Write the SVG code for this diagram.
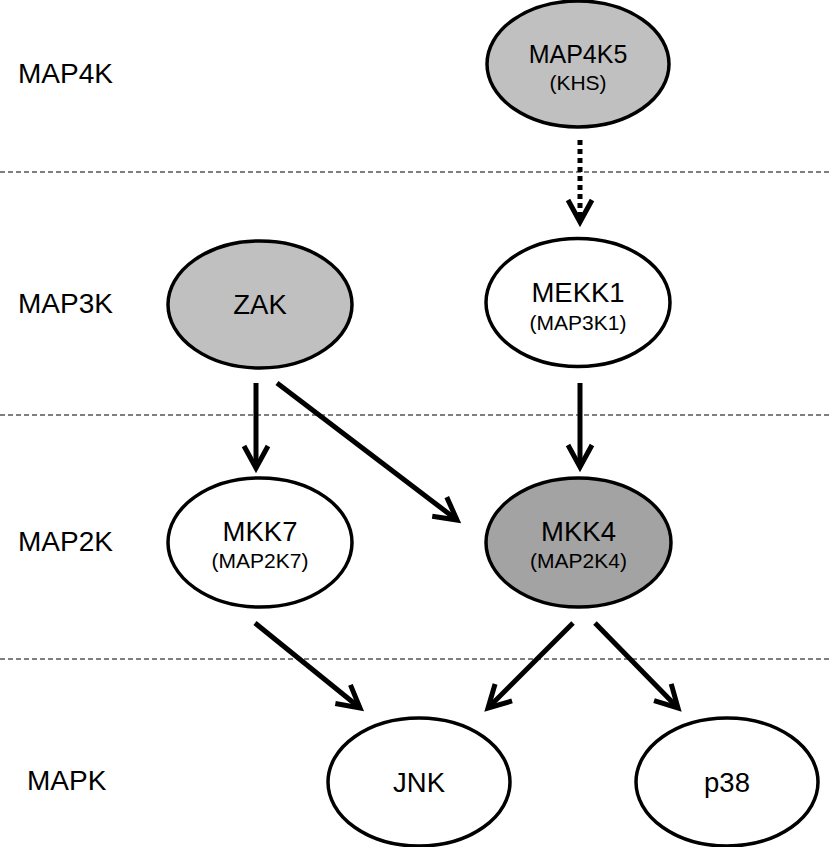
<svg xmlns="http://www.w3.org/2000/svg" width="830" height="847" viewBox="0 0 830 847">
<style>
.lvl{font-family:"Liberation Sans",Arial,sans-serif;font-size:28px;fill:#000}
.t1{font-family:"Liberation Sans",Arial,sans-serif;font-size:27.5px;fill:#000;text-anchor:middle}
.t2{font-family:"Liberation Sans",Arial,sans-serif;font-size:21px;fill:#000;text-anchor:middle}
.node{stroke:#000;stroke-width:3.5}
.white{fill:#fff}
.light{fill:#c0c0c0}
.dark{fill:#a3a3a3}
.sep{stroke:#000;stroke-width:1.2;stroke-dasharray:5 3}
.arr{stroke:#000;stroke-width:5;fill:none;marker-end:url(#head)}
.dot{stroke-dasharray:5 4}
</style>
<defs>
<marker id="head" markerUnits="userSpaceOnUse" viewBox="-30 -16 38 32" refX="0" refY="0" markerWidth="38" markerHeight="32" orient="auto">
<path d="M-22,-12 L0,0 L-22,12" fill="none" stroke="#000" stroke-width="5" stroke-linejoin="miter"/>
</marker>
</defs>
<g id="levels">
<text class="lvl" x="18" y="83">MAP4K</text>
<text class="lvl" x="18" y="313">MAP3K</text>
<text class="lvl" x="18" y="551">MAP2K</text>
<text class="lvl" x="27" y="790">MAPK</text>
</g>
<g id="separators">
<line class="sep" x1="0" y1="172" x2="830" y2="172"/>
<line class="sep" x1="0" y1="415" x2="830" y2="415"/>
<line class="sep" x1="0" y1="659" x2="830" y2="659"/>
</g>
<g id="MAP4K5">
<ellipse class="node light" cx="578" cy="64" rx="91" ry="63"/>
<text class="t1" x="578" y="63" style="font-size:25px">MAP4K5</text>
<text class="t2" x="578" y="90">(KHS)</text>
</g>
<g id="ZAK">
<ellipse class="node light" cx="260" cy="304.5" rx="92" ry="63.5"/>
<text class="t1" x="260" y="314">ZAK</text>
</g>
<g id="MEKK1">
<ellipse class="node white" cx="578" cy="302.5" rx="92" ry="64"/>
<text class="t1" x="578" y="302">MEKK1</text>
<text class="t2" x="578" y="330">(MAP3K1)</text>
</g>
<g id="MKK7">
<ellipse class="node white" cx="260" cy="542.5" rx="92" ry="64.5"/>
<text class="t1" x="260" y="541">MKK7</text>
<text class="t2" x="260" y="568">(MAP2K7)</text>
</g>
<g id="MKK4">
<ellipse class="node dark" cx="578.5" cy="542.5" rx="92.5" ry="64.5"/>
<text class="t1" x="578.5" y="541">MKK4</text>
<text class="t2" x="578.5" y="568">(MAP2K4)</text>
</g>
<g id="JNK">
<ellipse class="node white" cx="419" cy="782" rx="91" ry="64"/>
<text class="t1" x="419" y="792">JNK</text>
</g>
<g id="p38">
<ellipse class="node white" cx="727" cy="782" rx="91" ry="64"/>
<text class="t1" x="727" y="792">p38</text>
</g>
<g id="connectors">
<line class="arr dot" x1="580" y1="140" x2="580" y2="222"/>
<line class="arr" x1="256" y1="383" x2="256" y2="468"/>
<line class="arr" x1="277" y1="383" x2="457" y2="520"/>
<line class="arr" x1="580" y1="383" x2="580" y2="467"/>
<line class="arr" x1="255" y1="623" x2="360" y2="708"/>
<line class="arr" x1="573" y1="623" x2="488" y2="708"/>
<line class="arr" x1="595" y1="623" x2="678" y2="708"/>
</g>
</svg>
